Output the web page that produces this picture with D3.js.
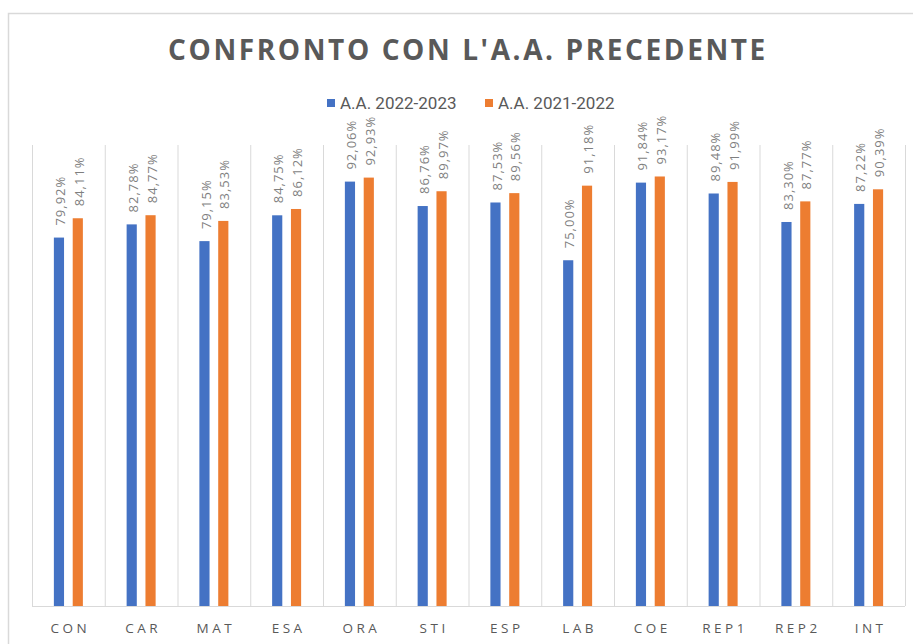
<!DOCTYPE html>
<html>
<head>
<meta charset="utf-8">
<script src="https://cdn.jsdelivr.net/npm/d3@7"></script>
<style>
  body { margin: 0; background: #fff; }
  svg { display: block; }
</style>
</head>
<body>
<div class="board"></div>
<script>
(function() {

  var categories = ['CON', 'CAR', 'MAT', 'ESA', 'ORA', 'STI', 'ESP', 'LAB', 'COE', 'REP1', 'REP2', 'INT'];
  var seriesNames = ['A.A. 2022-2023', 'A.A. 2021-2022'];
  var values2223 = [79.92, 82.78, 79.15, 84.75, 92.06, 86.76, 87.53, 75.00, 91.84, 89.48, 83.30, 87.22];
  var values2122 = [84.11, 84.77, 83.53, 86.12, 92.93, 89.97, 89.56, 91.18, 93.17, 91.99, 87.77, 90.39];
  var colors = ['#4472C4', '#ED7D31'];

  var options = { width: 913, height: 644 };
  var plot = { left: 32, right: 905, top: 145, bottom: 606 };

  var rows = categories.map(function(c, i) {
    return { cat: c, vals: [values2223[i] / 100, values2122[i] / 100] };
  });

  var it = d3.formatLocale({ decimal: ',', thousands: '.', grouping: [3], currency: ['€', ''] });
  var fmt = it.format('.2%');

  var board = d3.select('.board')
    .append('svg')
    .attr('width', options.width)
    .attr('height', options.height);

  // chart border
  board.append('rect')
    .attr('x', 8.5).attr('y', 13.5)
    .attr('width', 920).attr('height', 650)
    .style('fill', 'none')
    .style('stroke', '#d9d9d9')
    .style('stroke-width', 1.5);

  var x0 = d3.scaleBand()
    .domain(categories)
    .range([plot.left, plot.right])
    .padding(0);

  var x1 = d3.scaleBand()
    .domain([0, 1])
    .range([-14.5, 14.5])
    .paddingInner(0.46)
    .paddingOuter(0);

  var y = d3.scaleLinear()
    .domain([0, 1])
    .range([plot.bottom, plot.top]);

  // category separators
  var bounds = categories.map(function(c) { return x0(c); }).concat([plot.right]);
  board.selectAll('line.sep')
    .data(bounds)
    .enter()
    .append('line')
    .attr('class', 'sep')
    .attr('x1', function(d) { return d + 0.5; })
    .attr('x2', function(d) { return d + 0.5; })
    .attr('y1', plot.top)
    .attr('y2', plot.bottom)
    .style('stroke', '#d9d9d9')
    .style('stroke-width', 1);

  // bottom axis
  board.append('line')
    .attr('x1', plot.left).attr('x2', plot.right)
    .attr('y1', plot.bottom + 0.5).attr('y2', plot.bottom + 0.5)
    .style('stroke', '#d9d9d9')
    .style('stroke-width', 1.2);

  var groups = board.selectAll('g.cat')
    .data(rows)
    .enter()
    .append('g')
    .attr('class', 'cat')
    .attr('transform', function(d) { return 'translate(' + (x0(d.cat) + x0.bandwidth() / 2) + ',0)'; });

  groups.selectAll('rect')
    .data(function(d) { return d.vals; })
    .enter()
    .append('rect')
    .attr('x', function(d, i) { return x1(i); })
    .attr('y', function(d) { return y(d); })
    .attr('width', x1.bandwidth())
    .attr('height', function(d) { return y(0) - y(d); })
    .style('fill', function(d, i) { return colors[i]; });

  groups.selectAll('text.lbl')
    .data(function(d) { return d.vals; })
    .enter()
    .append('text')
    .attr('class', 'lbl')
    .attr('transform', function(d, i) {
      return 'translate(' + (x1(i) + x1.bandwidth() / 2 + 1.5) + ',' + (y(d) - 12) + ') rotate(-90)';
    })
    .attr('dy', '0.35em')
    .text(function(d) { return fmt(d); })
    .style('font-family', '"Open Sans", sans-serif')
    .style('font-size', '13px')
    .style('letter-spacing', '1px')
    .style('fill', '#7f7f7f');

  // x axis labels
  board.selectAll('text.xl')
    .data(categories)
    .enter()
    .append('text')
    .attr('class', 'xl')
    .attr('x', function(d) { return x0(d) + x0.bandwidth() / 2 + 2; })
    .attr('y', 633)
    .text(function(d) { return d; })
    .style('font-family', '"Open Sans", sans-serif')
    .style('font-size', '13.5px')
    .style('letter-spacing', '3.5px')
    .style('fill', '#595959')
    .style('text-anchor', 'middle');

  // title
  board.append('text')
    .attr('x', 468)
    .attr('y', 60)
    .text("CONFRONTO CON L'A.A. PRECEDENTE")
    .style('font-family', '"Open Sans", sans-serif')
    .style('font-weight', 700)
    .style('font-size', '28px')
    .style('letter-spacing', '2.6px')
    .style('fill', '#595959')
    .style('text-anchor', 'middle');

  // legend
  var legendX = [327, 485];
  var legend = board.selectAll('g.leg')
    .data(seriesNames)
    .enter()
    .append('g')
    .attr('class', 'leg')
    .attr('transform', function(d, i) { return 'translate(' + legendX[i] + ',103)'; });

  legend.append('rect')
    .attr('x', 0).attr('y', -4)
    .attr('width', 8).attr('height', 8)
    .style('fill', function(d, i) { return colors[i]; });

  legend.append('text')
    .attr('x', 13)
    .attr('y', 6)
    .text(function(d) { return d; })
    .style('font-family', '"Liberation Sans Narrow", "Roboto", sans-serif')
    .style('font-size', '17px')
    .style('fill', '#595959');

})();
</script>
</body>
</html>
